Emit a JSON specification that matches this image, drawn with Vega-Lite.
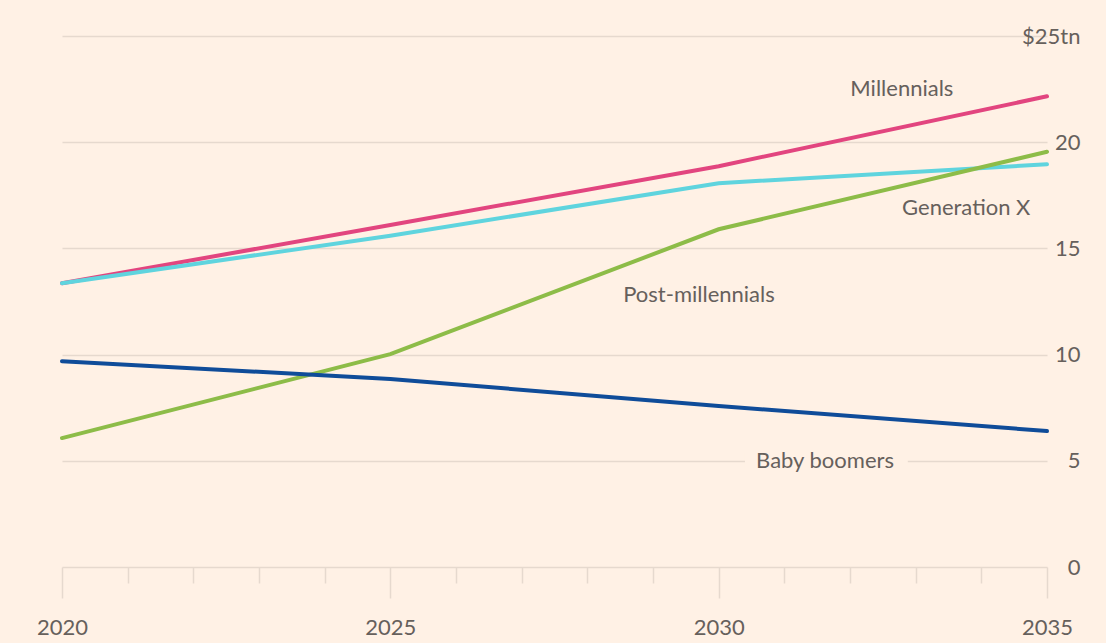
{
  "$schema": "https://vega.github.io/schema/vega-lite/v6.json",
  "width": 985,
  "height": 531,
  "autosize": "none",
  "padding": {"left": 62, "top": 36, "right": 59, "bottom": 76},
  "background": "#fff1e5",
  "config": {
    "view": {"stroke": null},
    "font": "Lato",
    "axis": {"labelFont": "Lato", "labelColor": "#66605c", "labelFontSize": 22}
  },
  "datasets": {
    "lines": [
      {"year": 2020, "value": 13.36, "generation": "Millennials"},
      {"year": 2025, "value": 16.1, "generation": "Millennials"},
      {"year": 2030, "value": 18.87, "generation": "Millennials"},
      {"year": 2035, "value": 22.16, "generation": "Millennials"},
      {"year": 2020, "value": 13.36, "generation": "Generation X"},
      {"year": 2025, "value": 15.6, "generation": "Generation X"},
      {"year": 2030, "value": 18.07, "generation": "Generation X"},
      {"year": 2035, "value": 18.96, "generation": "Generation X"},
      {"year": 2020, "value": 6.07, "generation": "Post-millennials"},
      {"year": 2025, "value": 10.02, "generation": "Post-millennials"},
      {"year": 2030, "value": 15.9, "generation": "Post-millennials"},
      {"year": 2035, "value": 19.55, "generation": "Post-millennials"},
      {"year": 2020, "value": 9.69, "generation": "Baby boomers"},
      {"year": 2025, "value": 8.85, "generation": "Baby boomers"},
      {"year": 2030, "value": 7.58, "generation": "Baby boomers"},
      {"year": 2035, "value": 6.4, "generation": "Baby boomers"}
    ],
    "labels": [
      {"year": 2032.79, "value": 22.5, "text": "Millennials"},
      {"year": 2033.77, "value": 16.9, "text": "Generation X"},
      {"year": 2029.7, "value": 12.8, "text": "Post-millennials"},
      {"year": 2031.62, "value": 5.0, "text": "Baby boomers"}
    ],
    "mask": [
      {"x1": 2030.4, "x2": 2032.88, "y1": 4.6, "y2": 5.4}
    ]
  },
  "layer": [
    {
      "data": {"name": "lines"},
      "mark": {"type": "line", "strokeWidth": 4, "strokeCap": "round", "opacity": 0},
      "encoding": {
        "x": {
          "field": "year", "type": "quantitative",
          "scale": {"domain": [2020, 2035], "nice": false, "zero": false},
          "axis": {
            "title": null,
            "values": [2020, 2021, 2022, 2023, 2024, 2025, 2026, 2027, 2028, 2029, 2030, 2031, 2032, 2033, 2034, 2035],
            "format": "d",
            "labelExpr": "datum.value % 5 === 0 ? datum.label : ''",
            "grid": false,
            "domainColor": "#e6d9ce",
            "domainWidth": 1.5,
            "tickColor": "#e6d9ce",
            "tickWidth": 1.5,
            "tickSize": {"condition": {"test": "datum.value % 5 === 0", "value": 31}, "value": 16},
            "labelPadding": 19,
            "labelFlush": false,
            "labelOverlap": false
          }
        },
        "y": {
          "field": "value", "type": "quantitative",
          "scale": {"domain": [0, 25], "nice": false},
          "axis": {
            "orient": "right",
            "title": null,
            "values": [0, 5, 10, 15, 20, 25],
            "labelExpr": "datum.value === 25 ? '$25tn' : datum.label",
            "domain": false,
            "ticks": false,
            "grid": true,
            "gridColor": {"condition": {"test": "datum.value === 0", "value": "transparent"}, "value": "#e6d9ce"},
            "gridWidth": 1.5,
            "labelAlign": "right",
            "labelBaseline": "middle",
            "labelPadding": 33
          }
        }
      }
    },
    {
      "data": {"name": "mask"},
      "mark": {"type": "rect", "fill": "#fff1e5"},
      "encoding": {
        "x": {"field": "x1", "type": "quantitative"},
        "x2": {"field": "x2"},
        "y": {"field": "y1", "type": "quantitative"},
        "y2": {"field": "y2"}
      }
    },
    {
      "data": {"name": "lines"},
      "mark": {"type": "line", "strokeWidth": 4, "strokeCap": "round"},
      "encoding": {
        "x": {"field": "year", "type": "quantitative"},
        "y": {"field": "value", "type": "quantitative"},
        "color": {
          "field": "generation", "type": "nominal", "legend": null,
          "scale": {
            "domain": ["Millennials", "Generation X", "Post-millennials", "Baby boomers"],
            "range": ["#e2457f", "#5fd4de", "#8dbc48", "#0f4c99"]
          }
        }
      }
    },
    {
      "data": {"name": "labels"},
      "mark": {"type": "text", "font": "Lato", "fontSize": 22, "color": "#66605c", "align": "center", "baseline": "middle"},
      "encoding": {
        "x": {"field": "year", "type": "quantitative"},
        "y": {"field": "value", "type": "quantitative"},
        "text": {"field": "text"}
      }
    }
  ]
}
